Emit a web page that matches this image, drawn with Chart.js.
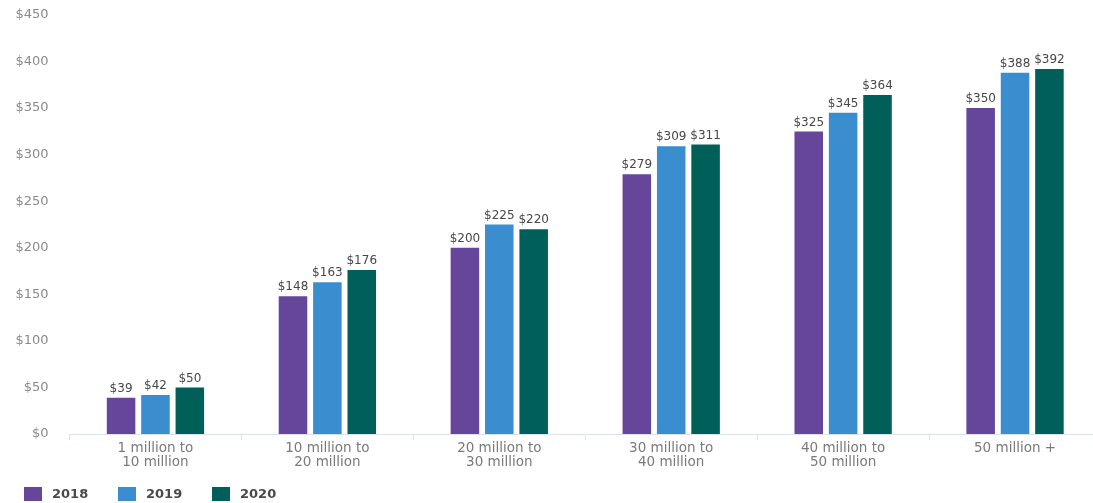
<!DOCTYPE html>
<html>
<head>
<meta charset="utf-8">
<script src="https://cdn.jsdelivr.net/npm/chart.js@4/dist/chart.umd.min.js"></script>
<style>
html, body { margin: 0; padding: 0; overflow: hidden; background: #fff; }
#wrap { width: 1101px; height: 503px; }
</style>
</head>
<body>
<div id="wrap"><canvas id="price_chart"></canvas></div>
<script>
// audience size buckets
categories = [
    ['1 million to', '10 million'],
    ['10 million to', '20 million'],
    ['20 million to', '30 million'],
    ['30 million to', '40 million'],
    ['40 million to', '50 million'],
    '50 million +'
]

years = ['2018', '2019', '2020']
values_2018 = [39, 148, 200, 279, 325, 350]
values_2019 = [42, 163, 225, 309, 345, 388]
values_2020 = [50, 176, 220, 311, 364, 392]

y_ticks = [0, 50, 100, 150, 200, 250, 300, 350, 400, 450]

colors = ['#65469b', '#3a8ed0', '#005f59']
font_family = '"DejaVu Sans", sans-serif'

// dollar value above each bar
var barValues = {
    id: 'barValues',
    afterDatasetsDraw(chart) {
        var ctx = chart.ctx
        ctx.save()
        ctx.font = '12px ' + font_family
        ctx.fillStyle = '#474747'
        ctx.textAlign = 'center'
        ctx.textBaseline = 'bottom'
        chart.data.datasets.forEach(function (ds, i) {
            chart.getDatasetMeta(i).data.forEach(function (bar, j) {
                ctx.fillText('$' + ds.data[j], bar.x, bar.y - 3)
            })
        })
        ctx.restore()
    }
}

// legend row along the bottom left
var bottomLegend = {
    id: 'bottomLegend',
    afterDraw(chart) {
        var ctx = chart.ctx
        ctx.save()
        ctx.font = 'bold 13px ' + font_family
        ctx.textBaseline = 'middle'
        chart.data.datasets.forEach(function (ds, i) {
            var x = 24 + i * 94
            ctx.fillStyle = ds.backgroundColor
            ctx.fillRect(x, 487, 18, 14)
            ctx.fillStyle = '#4a4a4a'
            ctx.fillText(ds.label, x + 28, 495)
        })
        ctx.restore()
    }
}

datasets = [values_2018, values_2019, values_2020].map(function (vals, i) {
    return {
        label: years[i],
        data: vals,
        backgroundColor: colors[i],
        categoryPercentage: 0.6,
        barPercentage: 0.83
    }
})

var ctx = document.getElementById('price_chart').getContext('2d')
myChart = new Chart(ctx, {
    type: 'bar',
    data: {
        labels: categories,
        datasets: datasets
    },
    plugins: [barValues, bottomLegend],
    options: {
        responsive: true,
        maintainAspectRatio: false,
        animation: false,
        layout: { padding: { top: 15, left: 0, right: 0, bottom: 31 } },
        scales: {
            x: {
                grid: {
                    display: true,
                    drawOnChartArea: false,
                    offset: true,
                    tickLength: 6,
                    color: '#dbe1f1'
                },
                border: { color: '#dbe1f1', width: 1 },
                ticks: {
                    color: '#7a7a7a',
                    padding: 1,
                    maxRotation: 0,
                    autoSkip: false,
                    font: { family: font_family, size: 13.5, lineHeight: 1.05 }
                },
                afterFit: function (scale) { scale.height = 38 }
            },
            y: {
                min: 0,
                max: 450,
                afterBuildTicks: function (scale) {
                    scale.ticks = y_ticks.map(function (v) { return { value: v } })
                },
                grid: { display: false, drawTicks: false },
                border: { display: false },
                ticks: {
                    color: '#8a8a8a',
                    padding: 21,
                    font: { family: font_family, size: 13 },
                    callback: function (v) { return '$' + v }
                },
                // tick padding would otherwise push the plot top down
                afterFit: function (scale) {
                    scale.width = 69.5
                    scale.paddingTop = 0
                    scale.paddingBottom = 0
                }
            }
        },
        plugins: {
            legend: { display: false },
            tooltip: { enabled: false }
        }
    }
})
</script>
</body>
</html>
